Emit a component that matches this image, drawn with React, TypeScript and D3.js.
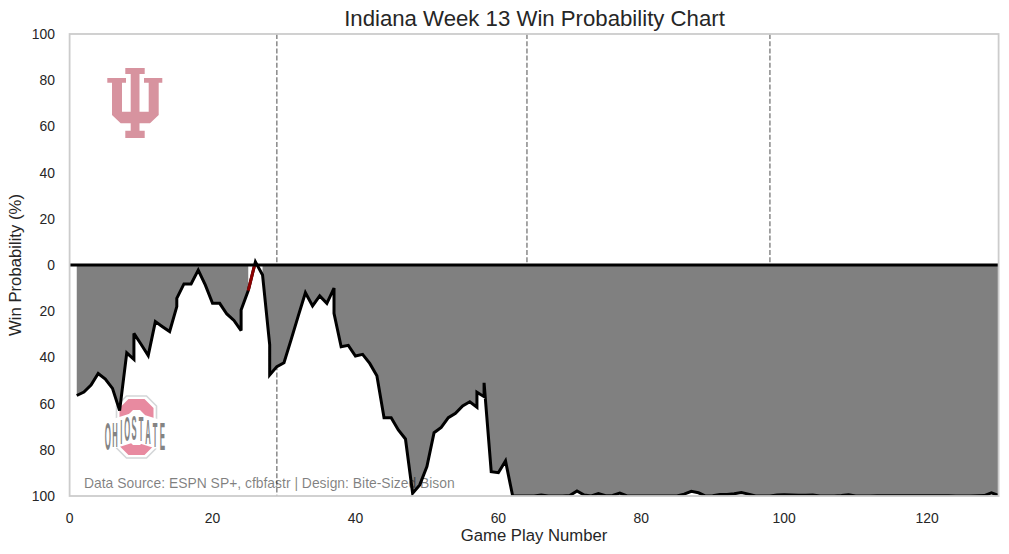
import React from "react";
import * as d3 from "d3";

const W = 1009;
const H = 554;
const FONT = '"Liberation Sans", Arial, sans-serif';

const title = "Indiana Week 13 Win Probability Chart";
const xLabel = "Game Play Number";
const yLabel = "Win Probability (%)";
const sourceNote = "Data Source: ESPN SP+, cfbfastr | Design: Bite-Sized Bison";
const xTicks = [0, 20, 40, 60, 80, 100, 120];
const yTicks = [-100, -80, -60, -40, -20, 0, 20, 40, 60, 80, 100];
const quarterBreaks = [29, 64, 98];

const plays = [
  1, 2, 3, 4, 5, 6, 7, 8, 9, 9, 10, 11, 12, 13, 14, 15, 15, 16, 17, 18, 19, 20, 21, 22, 23, 24, 24, 25, 26, 27, 28, 28, 29, 30,
  31, 32, 33, 34, 35, 36, 37, 37, 38, 39, 40, 41, 42, 43, 44, 45, 46, 47, 48, 49, 50, 51, 52, 53, 54, 55, 56, 57, 57, 58, 58, 59, 60, 61, 62,
  63, 64, 65, 66, 67, 68, 69, 70, 71, 72, 73, 74, 75, 76, 77, 78, 79, 80, 81, 82, 83, 84, 85, 86, 87, 88, 89, 90, 91, 92, 93, 94, 95, 96, 97, 98,
  99, 100, 101, 102, 103, 104, 105, 106, 107, 108, 109, 110, 111, 112, 113, 114, 115, 116, 117, 118, 119, 120, 121, 122, 123, 124, 125, 126, 127, 128, 129, 130,
];
const ohioStateProb = [
  56.5, 55, 52, 47, 49.4, 53.4, 63, 38, 40.8, 29.6, 34.3, 39.2, 24.5, 26.7, 28.8, 18, 14.4, 8.2, 8.2, 2.2, 8.7, 16.6, 16.6, 21.2, 24, 28.4, 19.5, 11.1, -1.4, 4.3, 34.6, 47.6, 44, 42.3,
  32.3, 22, 12, 17.7, 13.4, 16.6, 10, 20.9, 35.4, 34.8, 39.4, 38.7, 42.6, 47.9, 66.1, 66.1, 71.4, 75.3, 98.8, 95.2, 87.3, 72.6, 70.3, 66.1, 64.2, 61, 59.2, 61.6, 55.1, 57, 51, 89.5, 89.9, 84.8, 100,
  100, 100, 100, 99.6, 100, 100, 100, 99.8, 97.8, 99.6, 100, 99, 99.9, 99.8, 98.7, 100, 100, 100, 100, 100, 100, 100, 100, 99.2, 98, 98.6, 100, 99.9, 99.3, 99.3, 99, 98.5, 99.2, 100, 100, 100,
  99.6, 99.5, 99.6, 99.7, 99.7, 99.6, 100, 100, 100, 99.8, 99.5, 100, 100, 100, 99.9, 99.9, 99.9, 99.9, 99.9, 99.9, 99.9, 99.9, 99.9, 99.9, 99.9, 100, 100, 100, 99.9, 99.8, 98.6, 99.8,
];
const redStartPlayIndex = 27;

const logoLetters = ["O", "H", "I", "O", "S", "T", "A", "T", "E"];
const logoLetterLift = [0, 3, 6, 9, 10, 9, 6, 3, 0];
const logoLetterPos = [107.8, 115, 121.3, 127.3, 134, 141, 148, 155, 162.5];

const x = d3.scaleLinear().domain([0, 130]).range([69.6, 998.6]);
const y = d3.scaleLinear().domain([-100, 100]).range([34, 496]);

type P = { p: number; v: number };
const points: P[] = plays.map((p, i) => ({ p, v: ohioStateProb[i] }));

const linePath = d3.line<P>().x((d) => x(d.p)).y((d) => y(d.v)).curve(d3.curveLinear);
const areaPath = d3
  .area<P>()
  .defined((d) => d.v > 0)
  .x((d) => x(d.p))
  .y0(y(0))
  .y1((d) => y(d.v));

function IndianaLogo() {
  const d =
    "M125.3 68H144.7V74H139.5V111.7H148.7V82.7H144V78H162.3V82.7H158.7V115L150 123.3H139.5V130.7H144.7V138H125.3V130.7H130.7V123.3H120.7L112 115V82.7H107.3V78H126V82.7H122V111.7H130.7V74H125.3Z";
  return <path d={d} fill="#d7939f" />;
}

function OhioStateLogo() {
  const oct = (l: number, t: number, r: number, b: number, c: number) =>
    `M${l + c} ${t}H${r - c}L${r} ${t + c}V${b - c}L${r - c} ${b}H${l + c}L${l} ${b - c}V${t + c}Z`;
  return (
    <g>
      <path d={oct(116.5, 396, 156.5, 458, 10)} fill="#ffffff" stroke="#d4d6d8" strokeWidth={1.6} />
      <path
        d={oct(119.5, 399, 153.5, 455, 9) + oct(128, 410, 145, 445, 5)}
        fill="#e88aa0"
        fillRule="evenodd"
      />
      <path d="M103.5 422L135 412L167 422V452L135 442L103.5 452Z" fill="#ffffff" />
      {logoLetters.map((ch, i) => (
        <text
          key={i}
          transform={`translate(${logoLetterPos[i]},${450 - logoLetterLift[i]}) scale(0.21,1)`}
          textAnchor="middle"
          fontFamily={FONT}
          fontWeight={700}
          fontSize={i === 0 || i === 8 ? 38 : 36}
          fill="#848484"
        >
          {ch}
        </text>
      ))}
    </g>
  );
}

export default function App() {
  const left = x(0);
  const right = x(130);
  const top = y(-100);
  const bottom = y(100);
  return (
    <svg
      width={W}
      height={H}
      viewBox={`0 0 ${W} ${H}`}
      style={{ position: "absolute", left: 0, top: 0, background: "#fff" }}
      fontFamily={FONT}
    >
      <defs>
        <clipPath id="plot">
          <rect x={left} y={top} width={right - left} height={bottom - top} />
        </clipPath>
        <clipPath id="belowZero">
          <rect x={left} y={y(0)} width={right - left} height={bottom - y(0)} />
        </clipPath>
      </defs>

      <text x={534.5} y={26} textAnchor="middle" fontSize={22.2} fill="#262626">
        {title}
      </text>

      <IndianaLogo />
      <OhioStateLogo />

      <g clipPath="url(#plot)">
        {quarterBreaks.map((q) => (
          <line key={q} x1={x(q)} x2={x(q)} y1={top} y2={bottom} stroke="#808080" strokeWidth={1.4} strokeDasharray="5 2.2" />
        ))}
        <path d={areaPath(points) ?? ""} fill="#808080" />
        <path d={linePath(points) ?? ""} fill="none" stroke="#000" strokeWidth={3} strokeLinejoin="miter" strokeMiterlimit={3} />
        <path
          d={linePath(points.slice(redStartPlayIndex, redStartPlayIndex + 2)) ?? ""}
          fill="none"
          stroke="#8b0000"
          strokeWidth={3}
          clipPath="url(#belowZero)"
        />
        <line x1={left} x2={right} y1={y(0)} y2={y(0)} stroke="#000" strokeWidth={3} />
      </g>

      <text x={84} y={488} fontSize={13.9} fill="#000" fillOpacity={0.5}>
        {sourceNote}
      </text>

      <rect x={left} y={top} width={right - left} height={bottom - top} fill="none" stroke="#cccccc" strokeWidth={1.8} />

      {xTicks.map((t) => (
        <text key={t} x={x(t)} y={522.5} textAnchor="middle" fontSize={13.9} fill="#262626">
          {t}
        </text>
      ))}
      {yTicks.map((t) => (
        <text key={t} x={55} y={y(t) + 5} textAnchor="end" fontSize={13.9} fill="#262626">
          {Math.abs(t)}
        </text>
      ))}

      <text x={534} y={541} textAnchor="middle" fontSize={16.7} fill="#262626">
        {xLabel}
      </text>
      <text
        transform={`translate(21,${y(0)}) rotate(-90)`}
        textAnchor="middle"
        fontSize={16.7}
        fill="#262626"
      >
        {yLabel}
      </text>
    </svg>
  );
}
